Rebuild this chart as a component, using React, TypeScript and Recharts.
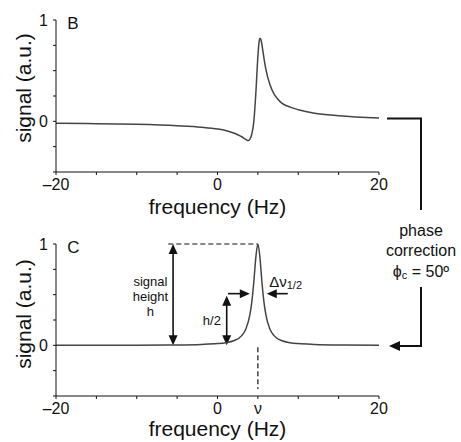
import React from 'react';
import { LineChart, Line, XAxis, YAxis, ReferenceLine, ReferenceDot } from 'recharts';

// panel B: phase-distorted spectrum
const freqB = [-20, -15, -10, -5, -2, 0, 1, 2, 2.5, 3, 3.5, 3.8, 4, 4.25, 4.5, 4.75, 5, 5.15, 5.28, 5.4, 5.6, 5.8, 6, 6.5, 7, 7.5, 8, 9, 10, 12, 15, 20];
const signalB = [-0.018, -0.023, -0.03, -0.044, -0.058, -0.075, -0.09, -0.115, -0.132, -0.152, -0.178, -0.19, -0.178, -0.125, 0.0, 0.28, 0.64, 0.785, 0.82, 0.8, 0.705, 0.6, 0.51, 0.36, 0.27, 0.215, 0.178, 0.14, 0.115, 0.08, 0.055, 0.033];

// panel C: phase-corrected (absorption) spectrum
const freqC = [-20, -15, -10, -5, -2, 0, 1, 2, 3, 3.5, 4, 4.25, 4.5, 4.75, 5, 5.25, 5.5, 5.75, 6, 6.5, 7, 8, 9, 10, 12, 15, 20];
const signalC = [0.001, 0.001, 0.002, 0.004, 0.009, 0.017, 0.026, 0.045, 0.096, 0.158, 0.297, 0.429, 0.628, 0.871, 1, 0.871, 0.628, 0.429, 0.297, 0.158, 0.096, 0.045, 0.026, 0.017, 0.009, 0.004, 0.002];

const xTicks = [-20, -15, -10, -5, 0, 5, 10, 15, 20];
const yTicks = [-0.5, -0.25, 0, 0.25, 0.5, 0.75, 1];
const xLabelsB: Record<string, string> = { '-20': '–20', '0': '0', '20': '20' };
const xLabelsC: Record<string, string> = { '-20': '–20', '0': '0', '5': 'ν', '20': '20' };
const yLabels: Record<string, string> = { '0': '0', '1': '1' };

const dataB = freqB.map((f, i) => ({ f, s: signalB[i] }));
const dataC = freqC.map((f, i) => ({ f, s: signalC[i] }));

const FONT = '"Liberation Sans", Arial, Helvetica, sans-serif';
const INK = '#111';
const CURVE = '#444';

// line with filled arrow heads, drawn from the segment's pixel ends
const arrow = (ends: 'start' | 'end' | 'both') => (p: any) => {
  const { x1, y1, x2, y2 } = p;
  const len = 10;
  const half = 4.5;
  const dx = x2 - x1;
  const dy = y2 - y1;
  const d = Math.hypot(dx, dy) || 1;
  const ux = dx / d;
  const uy = dy / d;
  const head = (tx: number, ty: number, dir: number) => {
    const bx = tx - ux * len * dir;
    const by = ty - uy * len * dir;
    return `${tx},${ty} ${bx - uy * half},${by + ux * half} ${bx + uy * half},${by - ux * half}`;
  };
  const hasStart = ends === 'start' || ends === 'both';
  const hasEnd = ends === 'end' || ends === 'both';
  const sx = hasStart ? x1 + ux * (len - 1) : x1;
  const sy = hasStart ? y1 + uy * (len - 1) : y1;
  const ex = hasEnd ? x2 - ux * (len - 1) : x2;
  const ey = hasEnd ? y2 - uy * (len - 1) : y2;
  return (
    <g>
      <line x1={sx} y1={sy} x2={ex} y2={ey} stroke={INK} strokeWidth={1.6} />
      {hasStart && <polygon points={head(x1, y1, -1)} fill={INK} />}
      {hasEnd && <polygon points={head(x2, y2, 1)} fill={INK} />}
    </g>
  );
};

const textAt = (lines: string[], size: number, anchor: 'start' | 'middle' = 'middle', gap = 15) => (p: any) => (
  <text x={p.cx} y={p.cy} fontFamily={FONT} fontSize={size} fill={INK} textAnchor={anchor} dominantBaseline="central">
    {lines.map((t, i) => (
      <tspan key={i} x={p.cx} dy={i === 0 ? -((lines.length - 1) * gap) / 2 : gap}>{t}</tspan>
    ))}
  </text>
);

const yTitle = (shift: number) => (p: any) => {
  const vb = p.viewBox || { x: 0, y: 0, height: 0 };
  const cy = vb.y + vb.height / 2 + shift;
  return (
    <text x={23} y={cy} transform={`rotate(-90, 23, ${cy})`} fontFamily={FONT} fontSize={21} fill={INK} textAnchor="middle" dominantBaseline="central">
      signal (a.u.)
    </text>
  );
};

const xTitle = (drop: number) => (p: any) => {
  const vb = p.viewBox || { x: 0, y: 0, width: 0 };
  return (
    <text x={vb.x + vb.width / 2} y={vb.y + drop} fontFamily={FONT} fontSize={21} fill={INK} textAnchor="middle">
      frequency (Hz)
    </text>
  );
};

const axisProps = {
  stroke: INK,
  tickSize: 3,
  tick: { fontSize: 16, fill: INK, fontFamily: FONT },
};

function Panel({ data, letter, xLabels, top, marginTop, axisH, titleShift, titleDrop, children }: any) {
  return (
    <div style={{ position: 'absolute', left: 0, top }}>
      <LineChart width={461} height={220} data={data} margin={{ top: marginTop, right: 82, bottom: 0, left: 0 }}>
        <XAxis
          dataKey="f"
          type="number"
          domain={[-20, 20]}
          ticks={xTicks}
          interval={0}
          height={axisH}
          tickMargin={4}
          tickFormatter={(v: number) => xLabels[String(v)] ?? ''}
          label={{ content: xTitle(titleDrop) }}
          {...axisProps}
        />
        <YAxis
          type="number"
          domain={[-0.5, 1]}
          ticks={yTicks}
          interval={0}
          width={56}
          tickMargin={5}
          allowDataOverflow
          tickFormatter={(v: number) => yLabels[String(v)] ?? ''}
          label={{ content: yTitle(titleShift) }}
          {...axisProps}
        />
        <ReferenceDot x={-18.6} y={0.97} r={1} ifOverflow="visible" shape={textAt([letter], 17, 'start')} />
        {children}
        <Line type="monotone" dataKey="s" stroke={CURVE} strokeWidth={1.5} dot={false} isAnimationActive={false} />
      </LineChart>
    </div>
  );
}

export default function App() {
  return (
    <div style={{ position: 'absolute', left: 0, top: 0, width: 461, height: 442, overflow: 'hidden', background: '#fff' }}>
      <Panel data={dataB} letter="B" xLabels={xLabelsB} top={0} marginTop={20} axisH={48} titleShift={-8} titleDrop={42} />
      <Panel data={dataC} letter="C" xLabels={xLabelsC} top={222} marginTop={22} axisH={46} titleShift={-6} titleDrop={40}>
        <ReferenceLine segment={[{ x: -6.1, y: 1 }, { x: 5, y: 1 }]} stroke={INK} strokeWidth={1.2} strokeDasharray="5 3" />
        <ReferenceLine segment={[{ x: 5, y: -0.02 }, { x: 5, y: -0.43 }]} stroke={INK} strokeWidth={1.2} strokeDasharray="5 3" />
        <ReferenceLine segment={[{ x: -5.5, y: 0 }, { x: -5.5, y: 1 }]} shape={arrow('both')} />
        <ReferenceLine segment={[{ x: 1.14, y: 0 }, { x: 1.14, y: 0.49 }]} shape={arrow('both')} />
        <ReferenceLine segment={[{ x: 1.3, y: 0.51 }, { x: 4.0, y: 0.51 }]} shape={arrow('end')} />
        <ReferenceLine segment={[{ x: 8.7, y: 0.51 }, { x: 6.1, y: 0.51 }]} shape={arrow('end')} />
        <ReferenceDot x={-8.3} y={0.49} r={1} shape={textAt(['signal', 'height', 'h'], 13)} />
        <ReferenceDot x={-0.7} y={0.25} r={1} shape={textAt(['h/2'], 13)} />
        <ReferenceDot
          x={6.4}
          y={0.63}
          r={1}
          shape={(p: any) => (
            <text x={p.cx} y={p.cy} fontFamily={FONT} fontSize={15} fill={INK} dominantBaseline="central">
              Δν<tspan fontSize={11} dy={4}>1/2</tspan>
            </text>
          )}
        />
      </Panel>
      <svg width={461} height={442} style={{ position: 'absolute', left: 0, top: 0, pointerEvents: 'none' }}>
        <polyline points="387,118.5 421,118.5 421,210" fill="none" stroke={INK} strokeWidth={2} />
        <polyline points="421,287 421,346 398,346" fill="none" stroke={INK} strokeWidth={2} />
        <polygon points="389,346 400,341 400,351" fill={INK} />
        <g fontFamily={FONT} fontSize={16} fill={INK} textAnchor="middle">
          <text x={421} y={230} dominantBaseline="central">phase</text>
          <text x={421} y={250} dominantBaseline="central">correction</text>
          <text x={421} y={271} dominantBaseline="central">
            ϕ<tspan fontSize={11} dy={4}>c</tspan>
            <tspan dy={-4}> = 50º</tspan>
          </text>
        </g>
      </svg>
    </div>
  );
}
